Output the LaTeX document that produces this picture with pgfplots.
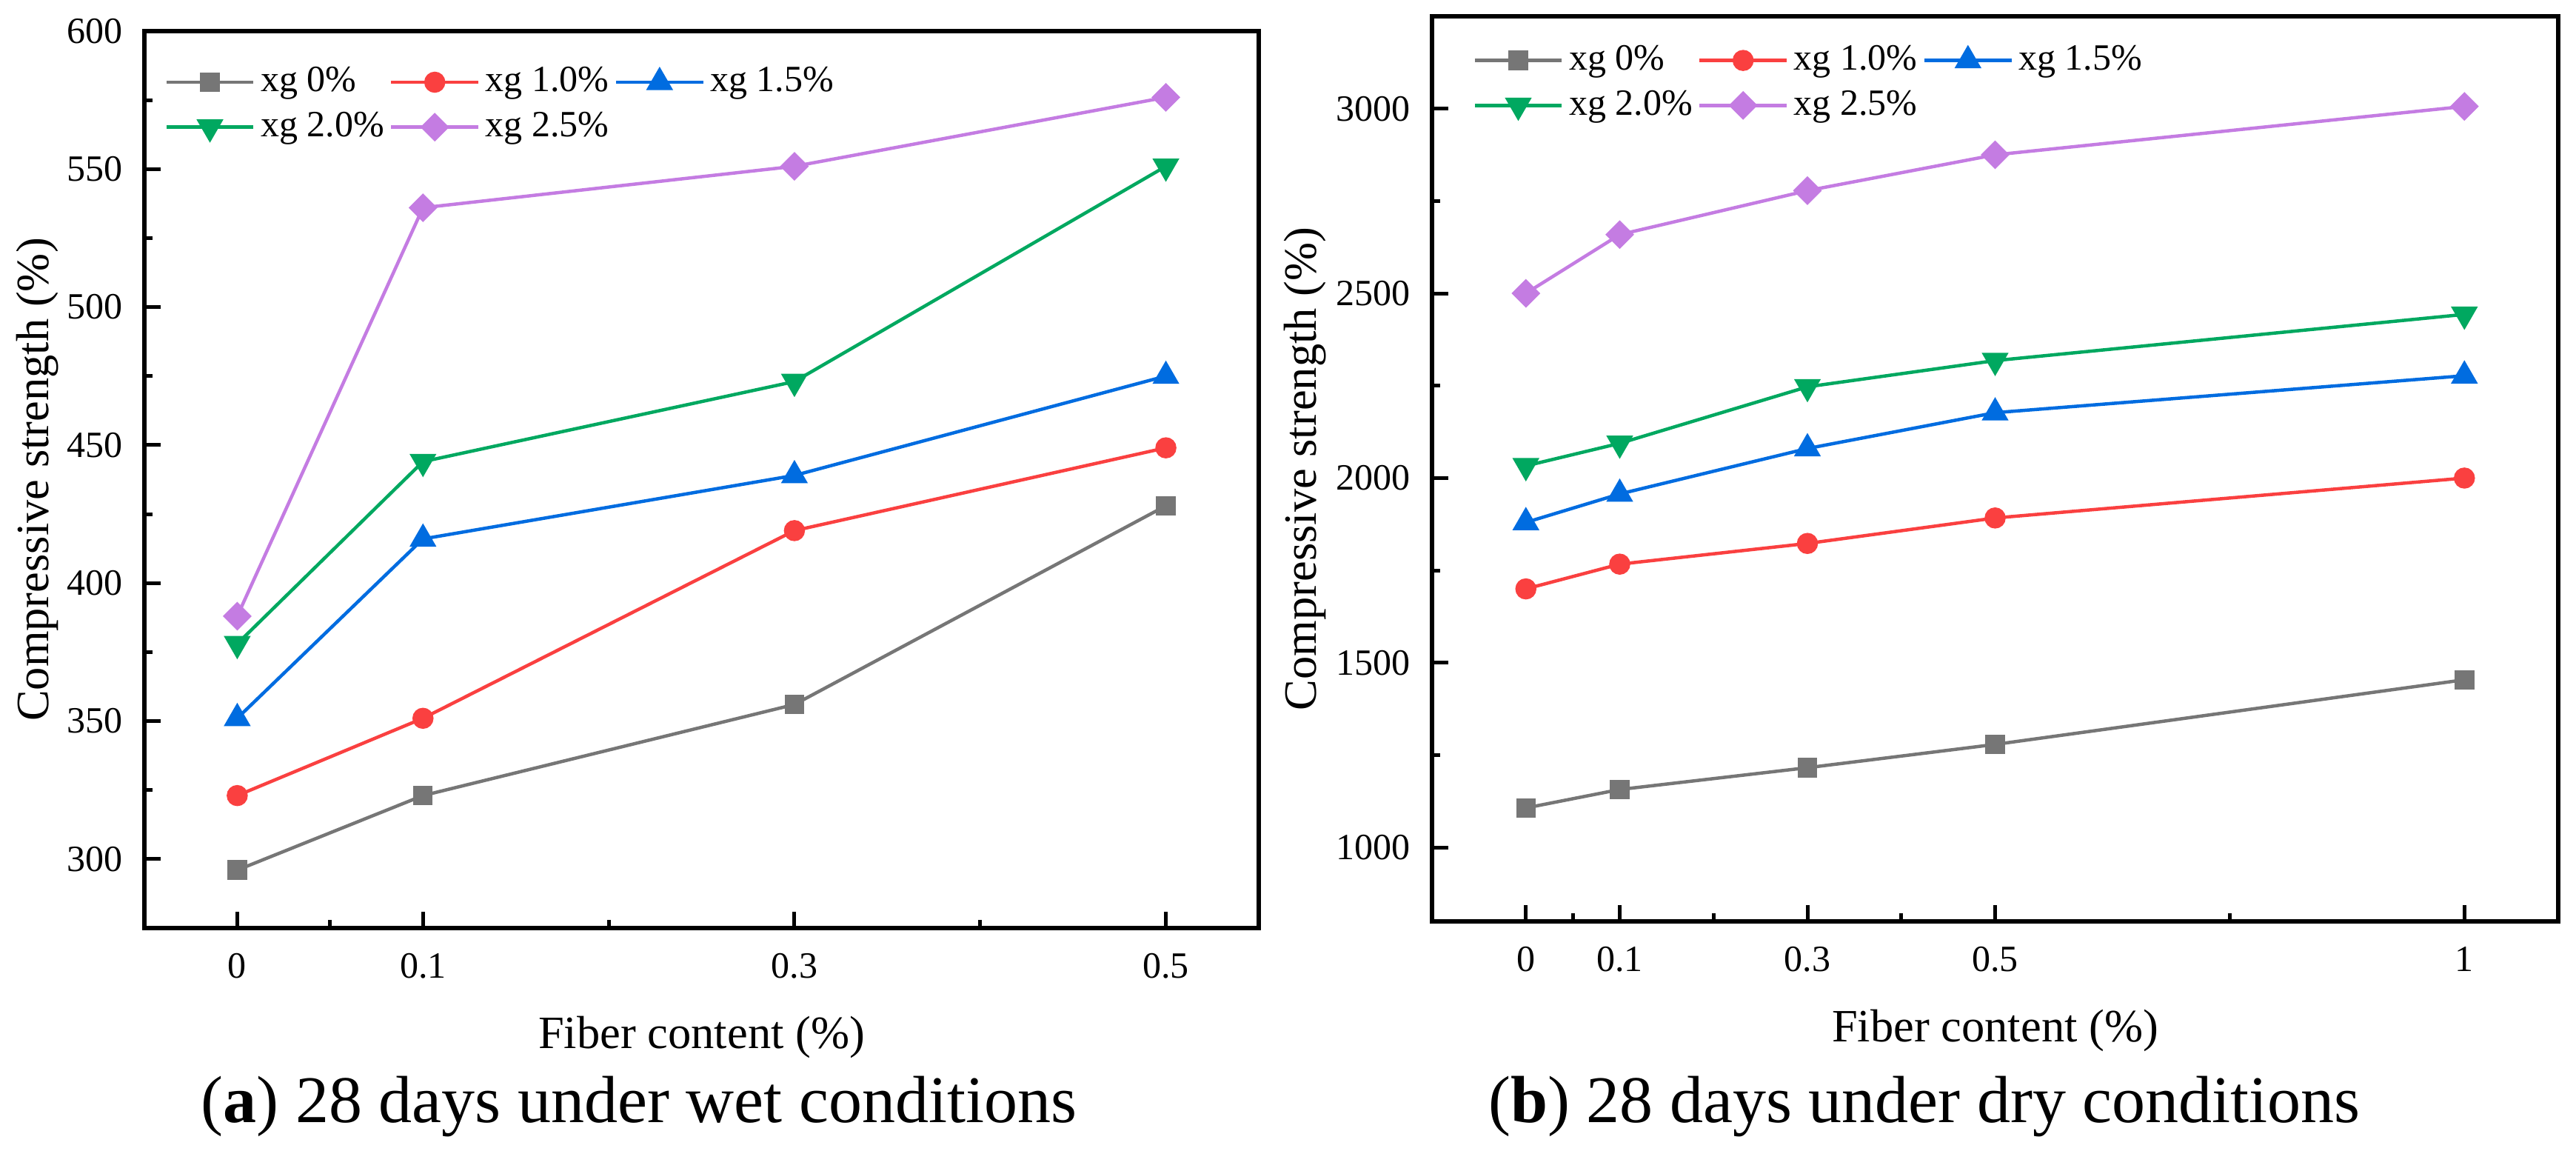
\documentclass[border=0pt]{standalone}
\usepackage{fontspec}
\setmainfont{Liberation Serif}
\usepackage{pgfplots}
\pgfplotsset{compat=1.18}
\definecolor{cgray}{RGB}{118,118,118}
\definecolor{cred}{RGB}{250,64,64}
\definecolor{cblue}{RGB}{0,108,224}
\definecolor{cgreen}{RGB}{0,168,96}
\definecolor{cpurple}{RGB}{196,124,226}
\newcommand{\labfont}{\fontsize{12.5bp}{15bp}\selectfont}
\pgfplotsset{
  myaxis/.style={
    scale only axis,
    axis line style={line width=1.2bp},
    tick align=inside,
    tick pos=left,
    major tick length=4.4bp,
    minor tick length=2.1bp,
    every tick/.style={black, line width=1bp},
    /pgf/number format/assume math mode=true,
    /pgf/number format/set thousands separator={},
    ticklabel style={font=\fontsize{10bp}{12bp}\selectfont},
    xticklabel style={inner sep=0pt, yshift=-6.6bp},
    yticklabel style={inner sep=0pt, xshift=-5.8bp},
    every axis x label/.style={at={(axis description cs:0.5,0)}, anchor=center, yshift=-29.4bp, font=\labfont},
    legend style={draw=none, fill=none, anchor=north west, legend columns=3,
      inner sep=0pt, outer sep=0pt, row sep=1bp,
      nodes={inner sep=1.5bp},
      font=\fontsize{10bp}{12bp}\selectfont},
    legend cell align=left,
    legend image code/.code={\draw[mark repeat=2,mark phase=2] plot coordinates {(0bp,0bp) (11.75bp,0bp) (23.5bp,0bp)};},
    every axis plot/.append style={line width=0.9bp},
  },
  s0/.style={color=cgray, mark=square*, mark size=2.2bp, mark options={solid, fill=cgray}},
  s1/.style={color=cred, mark=*, mark size=2.4bp, mark options={solid, fill=cred}},
  s2/.style={color=cblue, mark=triangle*, mark size=3.3bp, mark options={solid, fill=cblue}},
  s3/.style={color=cgreen, mark=triangle*, mark size=3.3bp, mark options={solid, fill=cgreen, rotate=180}},
  s4/.style={color=cpurple, mark=square*, mark size=2.3bp, mark options={solid, fill=cpurple, rotate=45}},
}
\begin{document}
\begin{tikzpicture}
\path[use as bounding box] (0,0) rectangle (695.8bp,310.8bp);
% (a) wet
\begin{axis}[myaxis,
  at={(39bp,60.2bp)}, anchor=south west,
  width=301bp, height=242.2bp,
  xmin=-0.05, xmax=0.55, ymin=275, ymax=600,
  xtick={0,0.1,0.3,0.5}, xticklabels={0,0.1,0.3,0.5},
  minor xtick={0.05,0.2,0.4},
  ytick={300,350,400,450,500,550,600},
  minor ytick={325,375,425,475,525,575},
  xlabel={Fiber content (\%)},
  ylabel={Compressive strength (\%)},
  every axis y label/.style={at={(axis description cs:-0.0963,0.5)}, rotate=90, anchor=center, font=\labfont},
  legend style={at={(axis description cs:0.0183,0.966)}},
]
\addplot[s0] coordinates {(0,296) (0.1,323) (0.3,356) (0.5,428)};
\addlegendentry{xg 0\%}
\addplot[s1] coordinates {(0,323) (0.1,351) (0.3,419) (0.5,449)};
\addlegendentry{xg 1.0\%}
\addplot[s2] coordinates {(0,351) (0.1,416) (0.3,439) (0.5,475)};
\addlegendentry{xg 1.5\%}
\addplot[s3] coordinates {(0,378) (0.1,444) (0.3,473) (0.5,551)};
\addlegendentry{xg 2.0\%}
\addplot[s4] coordinates {(0,388) (0.1,536) (0.3,551) (0.5,576)};
\addlegendentry{xg 2.5\%}
\end{axis}
% (b) dry
\begin{axis}[myaxis,
  at={(386.8bp,62bp)}, anchor=south west,
  width=304.2bp, height=244.4bp,
  xmin=-0.1, xmax=1.1, ymin=800, ymax=3250,
  xtick={0,0.1,0.3,0.5,1}, xticklabels={0,0.1,0.3,0.5,1},
  minor xtick={0.05,0.2,0.4,0.75},
  ytick={1000,1500,2000,2500,3000},
  minor ytick={1250,1750,2250,2750},
  xlabel={Fiber content (\%)},
  ylabel={Compressive strength (\%)},
  every axis y label/.style={at={(axis description cs:-0.113,0.5)}, rotate=90, anchor=center, font=\labfont},
  legend style={at={(axis description cs:0.0365,0.974)}},
]
\addplot[s0] coordinates {(0,1107) (0.1,1157) (0.3,1216) (0.5,1279) (1,1454)};
\addlegendentry{xg 0\%}
\addplot[s1] coordinates {(0,1700) (0.1,1767) (0.3,1823) (0.5,1892) (1,2000)};
\addlegendentry{xg 1.0\%}
\addplot[s2] coordinates {(0,1880) (0.1,1957) (0.3,2080) (0.5,2177) (1,2277)};
\addlegendentry{xg 1.5\%}
\addplot[s3] coordinates {(0,2033) (0.1,2094) (0.3,2247) (0.5,2318) (1,2443)};
\addlegendentry{xg 2.0\%}
\addplot[s4] coordinates {(0,2500) (0.1,2659) (0.3,2778) (0.5,2875) (1,3006)};
\addlegendentry{xg 2.5\%}
\end{axis}
\node[anchor=base, font=\fontsize{18bp}{21bp}\selectfont] at (172.6bp,7.8bp) {(\textbf{a}) 28 days under wet conditions};
\node[anchor=base, font=\fontsize{18bp}{21bp}\selectfont] at (519.8bp,7.8bp) {(\textbf{b}) 28 days under dry conditions};
\end{tikzpicture}
\end{document}
